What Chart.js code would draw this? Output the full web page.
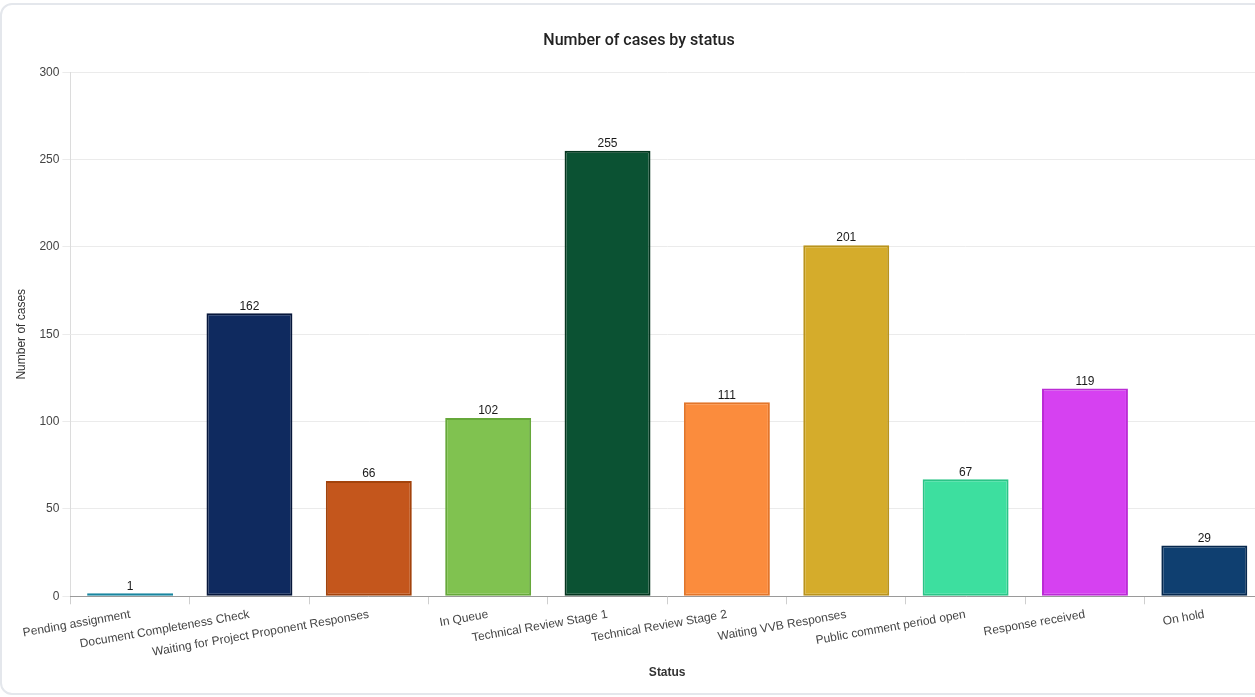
<!DOCTYPE html>
<html lang="en">
<head>
<meta charset="UTF-8">
<title>Number of cases by status</title>
<script src="https://cdn.jsdelivr.net/npm/chart.js"></script>
<style>
    body {
        margin: 0;
        background: #ffffff;
        overflow: hidden;
    }
    #card {
        position: absolute;
        left: 0;
        top: 3px;
        width: 1290px;
        height: 688px;
        border: 2px solid #e4e7ec;
        border-radius: 12px;
        background: #fff;
    }
    #chart-container {
        position: absolute;
        left: 0;
        top: 0;
        width: 1262px;
        height: 686px;
    }
</style>
</head>
<body>
<div id="card">
    <div id="chart-container">
        <canvas id="barChart"></canvas>
    </div>
</div>

<script>
    const statuses = [
        'Pending assignment', 'Document Completeness Check', 'Waiting for Project Proponent Responses',
        'In Queue', 'Technical Review Stage 1', 'Technical Review Stage 2', 'Waiting VVB Responses',
        'Public comment period open', 'Response received', 'On hold'
    ];
    const caseCounts = [1, 162, 66, 102, 255, 111, 201, 67, 119, 29];
    const barColors = ['#1f9cb8', '#0f2a5f', '#c4561c', '#80c250', '#0b5233', '#fb8c3d', '#d5ac2b', '#3ddf9f', '#d641f1', '#0f3f70'];
    const borderColors = ['#1886a0', '#06163a', '#a3430c', '#66a83a', '#04341e', '#e2752a', '#b9931c', '#2bc487', '#bb2cd5', '#07284d'];

    // draws the count above each bar
    const valueLabels = {
        id: 'valueLabels',
        afterDatasetsDraw(chart) {
            const ctx = chart.ctx;
            const meta = chart.getDatasetMeta(0);
            ctx.save();
            ctx.font = '12px "Liberation Sans", Arial, sans-serif';
            ctx.fillStyle = '#1a1a1a';
            ctx.textAlign = 'center';
            ctx.textBaseline = 'bottom';
            meta.data.forEach((bar, i) => {
                ctx.fillText(chart.data.datasets[0].data[i], bar.x, bar.y - 1);
            });
            ctx.restore();
        }
    };

    document.addEventListener('DOMContentLoaded', function() {
        const ctx = document.getElementById('barChart').getContext('2d');
        new Chart(ctx, {
            type: 'bar',
            data: {
                labels: statuses,
                datasets: [{
                    label: 'Number of cases',
                    data: caseCounts,
                    backgroundColor: barColors,
                    borderColor: borderColors,
                    borderWidth: 2,
                    borderSkipped: false,
                    minBarLength: 3,
                    categoryPercentage: 0.8,
                    barPercentage: 0.9
                }]
            },
            options: {
                responsive: true,
                maintainAspectRatio: false,
                animation: false,
                layout: {
                    padding: { left: 12, right: 0, top: 26, bottom: 7 }
                },
                plugins: {
                    legend: { display: false },
                    tooltip: { enabled: false },
                    title: {
                        display: true,
                        text: 'Number of cases by status',
                        color: '#222',
                        font: { family: 'Roboto, "Liberation Sans", sans-serif', size: 16, weight: '500' },
                        padding: { top: 0, bottom: 22 }
                    }
                },
                scales: {
                    y: {
                        min: 0,
                        max: 300,
                        ticks: {
                            stepSize: 50,
                            color: '#444',
                            font: { family: '"Liberation Sans", Arial, sans-serif', size: 12 }
                        },
                        grid: { color: '#ebebeb', tickLength: 8 },
                        border: { color: '#dcdcdc' },
                        title: {
                            display: true,
                            text: 'Number of cases',
                            color: '#333',
                            font: { family: '"Liberation Sans", Arial, sans-serif', size: 12 },
                            padding: { top: 0, bottom: 8 }
                        }
                    },
                    x: {
                        ticks: {
                            minRotation: 10,
                            maxRotation: 10,
                            autoSkip: false,
                            color: '#444',
                            font: { family: '"Liberation Sans", Arial, sans-serif', size: 12 }
                        },
                        grid: { drawOnChartArea: false, color: '#cfcfcf', tickLength: 8 },
                        border: { color: '#9a9a9a' },
                        title: {
                            display: true,
                            text: 'Status',
                            color: '#333',
                            font: { family: '"Liberation Sans", Arial, sans-serif', size: 12, weight: 'bold' },
                            padding: { top: 3 }
                        }
                    }
                }
            },
            plugins: [valueLabels]
        });
    });
</script>
</body>
</html>
